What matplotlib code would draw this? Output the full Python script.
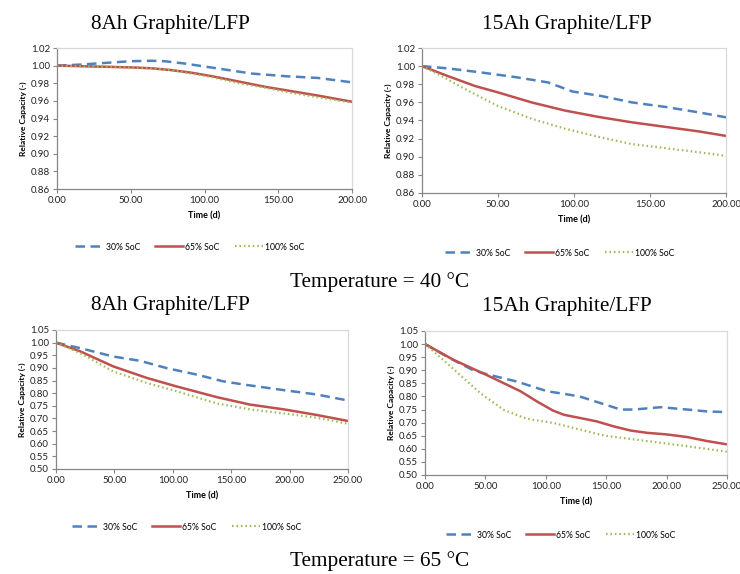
import matplotlib
matplotlib.use("Agg")
import matplotlib.pyplot as plt
import numpy as np

# ---------------- Data ----------------
# 8Ah, 40 C
t_8_40 = [0, 14, 32, 50, 64, 73, 86, 100, 116, 132, 155, 177, 200]
c30_8_40 = [1.000, 1.001, 1.003, 1.005, 1.0055, 1.005, 1.0025, 0.999, 0.995, 0.991, 0.988, 0.986, 0.981]
t_8_40b = [0, 25, 50, 64, 77, 91, 105, 123, 141, 159, 177, 200]
c65_8_40 = [1.000, 0.999, 0.998, 0.997, 0.995, 0.992, 0.988, 0.982, 0.976, 0.971, 0.966, 0.959]
c100_8_40 = [1.000, 0.999, 0.998, 0.997, 0.995, 0.991, 0.987, 0.980, 0.975, 0.969, 0.964, 0.958]

# 15Ah, 40 C
t_15_40 = [0, 17, 39, 61, 83, 99, 118, 138, 160, 182, 200]
c30_15_40 = [1.000, 0.9975, 0.993, 0.988, 0.982, 0.972, 0.967, 0.960, 0.955, 0.949, 0.9435]
t_15_40b = [0, 17, 35, 50, 72, 94, 116, 138, 160, 182, 200]
c65_15_40 = [1.000, 0.989, 0.978, 0.971, 0.960, 0.951, 0.944, 0.938, 0.933, 0.928, 0.923]
t_15_40c = [0, 13, 28, 50, 72, 94, 116, 138, 160, 182, 200]
c100_15_40 = [1.000, 0.989, 0.975, 0.956, 0.942, 0.931, 0.922, 0.914, 0.9095, 0.905, 0.901]

# 8Ah, 65 C
t_8_65 = [0, 21, 49, 72, 95, 121, 143, 161, 195, 223, 250]
c30_8_65 = [1.000, 0.978, 0.945, 0.928, 0.899, 0.873, 0.847, 0.834, 0.812, 0.795, 0.771]
t_8_65b = [0, 21, 49, 78, 103, 138, 166, 195, 223, 250]
c65_8_65 = [1.000, 0.965, 0.906, 0.860, 0.827, 0.784, 0.755, 0.736, 0.714, 0.690]
c100_8_65 = [1.000, 0.958, 0.886, 0.840, 0.808, 0.759, 0.736, 0.720, 0.703, 0.679]

# 15Ah, 65 C
t_15_65 = [0, 21, 40, 51, 76, 101, 115, 128, 145, 162, 173, 195, 217, 233, 250]
c30_15_65 = [1.000, 0.945, 0.900, 0.885, 0.857, 0.820, 0.810, 0.800, 0.775, 0.750, 0.750, 0.759, 0.750, 0.743, 0.740]
t_15_65b = [0, 24, 51, 79, 93, 106, 115, 128, 142, 156, 170, 184, 200, 217, 233, 250]
c65_15_65 = [1.000, 0.939, 0.882, 0.820, 0.780, 0.746, 0.730, 0.718, 0.705, 0.686, 0.670, 0.661, 0.655, 0.645, 0.630, 0.617]
t_15_65c = [0, 12, 29, 46, 65, 84, 106, 128, 148, 173, 195, 217, 250]
c100_15_65 = [1.000, 0.952, 0.882, 0.812, 0.749, 0.715, 0.699, 0.674, 0.651, 0.636, 0.623, 0.610, 0.589]

titles = ["8Ah Graphite/LFP", "15Ah Graphite/LFP", "8Ah Graphite/LFP", "15Ah Graphite/LFP"]
temps = ["Temperature = 40 \u00b0C", "Temperature = 65 \u00b0C"]
legend_labels = ["30% SoC", "65% SoC", "100% SoC"]

BLUE = "#4F81BD"
RED = "#C0504D"
GREEN = "#9BBB59"

TICKFONT = "Lato"
SERIF = "Liberation Serif"

fig = plt.figure(figsize=(7.4, 5.74), dpi=100)
W, H = 740, 574

def add_ax(l, r, t, b):
    return fig.add_axes([l / W, 1 - b / H, (r - l) / W, (b - t) / H])

panels = [
    dict(box=(57, 352, 48, 189), xmax=200, ylim=(0.86, 1.02), ystep=0.02,
         series=[(t_8_40, c30_8_40), (t_8_40b, c65_8_40), (t_8_40b, c100_8_40)],
         title_xy=(170, 25), leg_xy=(190, 247)),
    dict(box=(422, 726, 48, 193), xmax=200, ylim=(0.86, 1.02), ystep=0.02,
         series=[(t_15_40, c30_15_40), (t_15_40b, c65_15_40), (t_15_40c, c100_15_40)],
         title_xy=(567, 25), leg_xy=(560, 253)),
    dict(box=(56, 348, 330, 469), xmax=250, ylim=(0.50, 1.05), ystep=0.05,
         series=[(t_8_65, c30_8_65), (t_8_65b, c65_8_65), (t_8_65b, c100_8_65)],
         title_xy=(170, 306), leg_xy=(187, 527)),
    dict(box=(425, 727, 331, 475), xmax=250, ylim=(0.50, 1.05), ystep=0.05,
         series=[(t_15_65, c30_15_65), (t_15_65b, c65_15_65), (t_15_65c, c100_15_65)],
         title_xy=(567, 307), leg_xy=(561, 535)),
]

styles = [
    dict(color=BLUE, lw=1.8, dashes=(3.8, 2.2), dash_capstyle="butt"),
    dict(color=RED, lw=1.8, linestyle="-"),
    dict(color=GREEN, lw=1.6, dashes=(0.7, 1.3), dash_capstyle="butt"),
]

for i, p in enumerate(panels):
    l, r, t, b = p["box"]
    ax = add_ax(l, r, t, b)
    handles = []
    for (x, y), st, lab in zip(p["series"], styles, legend_labels):
        h, = ax.plot(x, y, label=lab, **st)
        handles.append(h)
    ax.set_xlim(0, p["xmax"])
    ax.set_ylim(*p["ylim"])
    ax.set_xticks(np.arange(0, p["xmax"] + 1, 50))
    ax.set_yticks(np.arange(p["ylim"][0], p["ylim"][1] + 1e-9, p["ystep"]))
    ax.xaxis.set_major_formatter(matplotlib.ticker.FormatStrFormatter("%.2f"))
    ax.yaxis.set_major_formatter(matplotlib.ticker.FormatStrFormatter("%.2f"))
    ax.tick_params(axis="both", direction="out", length=3, width=0.8, color="#868686",
                   labelsize=7, labelcolor="#222222", pad=2)
    for lab in ax.get_xticklabels() + ax.get_yticklabels():
        lab.set_fontfamily(TICKFONT)
    for s in ["left", "bottom"]:
        ax.spines[s].set_color("#868686")
        ax.spines[s].set_linewidth(0.9)
    for s in ["top", "right"]:
        ax.spines[s].set_color("#D9D9D9")
        ax.spines[s].set_linewidth(0.9)
    ax.set_ylabel("Relative Capacity (-)", fontsize=6, fontweight="bold",
                  family=TICKFONT, labelpad=3)
    ax.set_xlabel("Time (d)", fontsize=6.5, fontweight="bold", family=TICKFONT, labelpad=5)
    fig.text(p["title_xy"][0] / W, 1 - p["title_xy"][1] / H, titles[i],
             ha="center", va="center", fontsize=15.3, family=SERIF)
    fig.legend(handles=handles, labels=legend_labels, loc="center",
               bbox_to_anchor=(p["leg_xy"][0] / W, 1 - p["leg_xy"][1] / H),
               ncol=3, frameon=False, prop=dict(family=TICKFONT, size=6.2),
               handlelength=3.2, handletextpad=0.3, columnspacing=1.8)

fig.text(380 / W, 1 - 282 / H, temps[0], ha="center", va="center", fontsize=15.3, family=SERIF)
fig.text(380 / W, 1 - 561 / H, temps[1], ha="center", va="center", fontsize=15.3, family=SERIF)

fig.savefig("out.png", dpi=100, facecolor="white")
